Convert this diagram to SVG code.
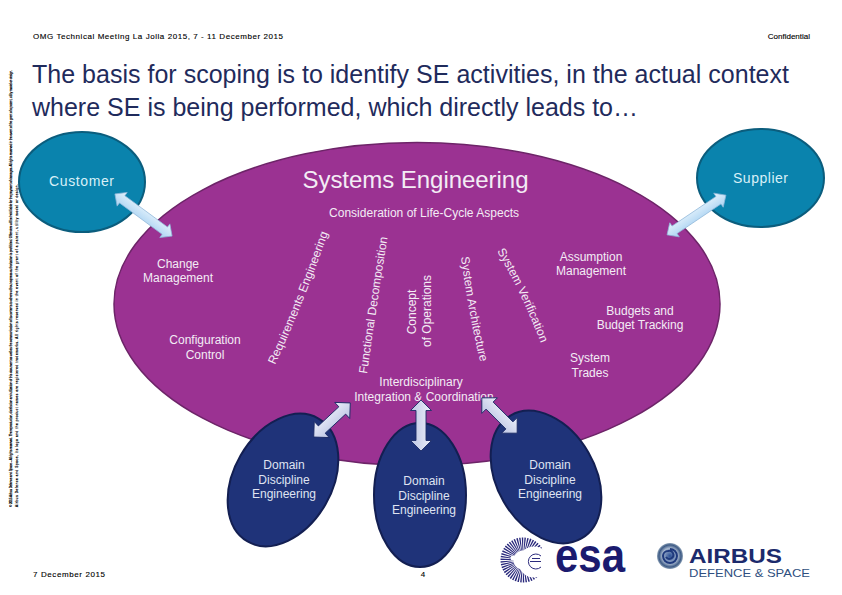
<svg xmlns="http://www.w3.org/2000/svg" width="842" height="595" viewBox="0 0 842 595">
<style>
text{font-family:"Liberation Sans",Arial,sans-serif}
.hd{font-size:8px;fill:#000;stroke:#000;stroke-width:.12}
.ttl{font-size:25px;fill:#1f2b5c}
.lb{font-size:12px;fill:#f3ecf5;text-anchor:middle}
.tp{font-size:12px;fill:#f3ecf5}
.cs{font-size:14px;fill:#d8f0f8;text-anchor:middle}
.dm{font-size:12px;fill:#dfe4f2;text-anchor:middle}
.lg{font-size:3.1px;fill:#000;stroke:#000;stroke-width:.2}
.gl{fill:none;stroke:#2b2a7c;stroke-width:1}
.a1{fill:url(#ga);stroke:#8fb6d8;stroke-width:.7}
.a2{fill:url(#gb);stroke:#1b2a66;stroke-width:.9}
.teal{fill:#0a83ad;stroke:#0b5d7d;stroke-width:2}
.dom{fill:#1f3379;stroke:#131f52;stroke-width:2}
</style>
<defs>
<linearGradient id="ga" x1="0" y1="0" x2="0" y2="1"><stop offset="0" stop-color="#e6f3fc"/><stop offset="1" stop-color="#a9d2f2"/></linearGradient>
<linearGradient id="gb" x1="0" y1="0" x2="0" y2="1"><stop offset="0" stop-color="#eceffa"/><stop offset="1" stop-color="#bcc5e3"/></linearGradient>
<radialGradient id="gl"><stop offset="0" stop-color="#2a4f95"/><stop offset=".6" stop-color="#a9b9d0"/><stop offset=".85" stop-color="#3d5a85"/><stop offset="1" stop-color="#8ea2b8"/></radialGradient>
<path id="p1" d="M275 365Q303 305 328 233"/>
<path id="p2" d="M367 374Q376 310 388 234"/>
<path id="p3" d="M461 257Q468 312 481 365"/>
<path id="p4" d="M497 251Q521 292 540 341"/>
</defs>
<rect width="842" height="595" fill="#fff"/>
<g id="legal">
<text class="lg" transform="translate(12 507) rotate(-90)" textLength="437">© 2015 Airbus Defence and Space – All rights reserved. The reproduction, distribution and utilization of this document as well as the communication of its contents to others without express authorization is prohibited. Offenders will be held liable for the payment of damages. All rights reserved in the event of the grant of a patent, utility model or design.</text>
<text class="lg" transform="translate(18 507) rotate(-90)" textLength="323">Airbus Defence and Space, its logo and the product names are registered trademarks. All rights reserved in the event of the grant of a patent, utility model or design.</text>
</g>
<g id="header">
<text class="hd" x="33" y="39" textLength="250">OMG Technical Meeting La Jolla 2015, 7 - 11 December 2015</text>
<text class="hd" x="810" y="39" text-anchor="end">Confidential</text>
<text class="ttl" x="32" y="83" textLength="757">The basis for scoping is to identify SE activities, in the actual context</text>
<text class="ttl" x="32" y="116" textLength="606">where SE is being performed, which directly leads to…</text>
</g>
<g id="customer"><ellipse class="teal" cx="82" cy="182" rx="63" ry="50"/><text class="cs" x="81.500" y="186" textLength="65">Customer</text></g>
<g id="supplier"><ellipse class="teal" cx="760.500" cy="178" rx="63.500" ry="49"/><text class="cs" x="760.500" y="183" textLength="55">Supplier</text></g>
<g id="systems-engineering">
<ellipse cx="417" cy="304" rx="303" ry="161.500" fill="#9b3292" stroke="#6d2468" stroke-width="1.500"/>
<text x="415.500" y="188" text-anchor="middle" font-size="24" fill="#f3ecf5" textLength="226">Systems Engineering</text>
<text class="lb" x="424" y="217" textLength="190">Consideration of Life-Cycle Aspects</text>
<text class="lb" x="178" y="268">Change</text><text class="lb" x="178" y="282">Management</text>
<text class="lb" x="205" y="344">Configuration</text><text class="lb" x="205" y="359">Control</text>
<text class="lb" x="591" y="261">Assumption</text><text class="lb" x="591" y="275">Management</text>
<text class="lb" x="640" y="315">Budgets and</text><text class="lb" x="640" y="329">Budget Tracking</text>
<text class="lb" x="590" y="362">System</text><text class="lb" x="590" y="377">Trades</text>
<text class="lb" x="421" y="386">Interdisciplinary</text><text class="lb" x="424" y="401">Integration &amp; Coordination</text>
<text class="tp"><textPath href="#p1">Requirements Engineering</textPath></text>
<text class="tp"><textPath href="#p2">Functional Decomposition</textPath></text>
<text class="lb" transform="translate(416 312) rotate(-90)">Concept</text>
<text class="lb" transform="translate(431 311) rotate(-90)">of Operations</text>
<text class="tp"><textPath href="#p3">System Architecture</textPath></text>
<text class="tp"><textPath href="#p4">System Verification</textPath></text>
</g>
<g id="domain-1"><ellipse class="dom" cx="283" cy="480" rx="49" ry="71" transform="rotate(30 283 480)"/><text class="dm" x="284" y="469">Domain</text><text class="dm" x="284" y="484">Discipline</text><text class="dm" x="284" y="498">Engineering</text></g>
<g id="domain-2"><ellipse class="dom" cx="420" cy="495" rx="46" ry="72"/><text class="dm" x="424" y="485">Domain</text><text class="dm" x="424" y="500">Discipline</text><text class="dm" x="424" y="514">Engineering</text></g>
<g id="domain-3"><ellipse class="dom" cx="546" cy="477" rx="49" ry="71" transform="rotate(-30 546 477)"/><text class="dm" x="550" y="469">Domain</text><text class="dm" x="550" y="484">Discipline</text><text class="dm" x="550" y="498">Engineering</text></g>
<g id="connectors">
<polygon class="a1" transform="translate(143.500 215) rotate(36.400)" points="-35.500,0 -26.500,-8.500 -26.500,-4.500 26.500,-4.500 26.500,-8.500 35.500,0 26.500,8.500 26.500,4.500 -26.500,4.500 -26.500,8.500"/>
<polygon class="a1" transform="translate(696.500 215) rotate(-34)" points="-35.500,0 -26.500,-8.500 -26.500,-4.500 26.500,-4.500 26.500,-8.500 35.500,0 26.500,8.500 26.500,4.500 -26.500,4.500 -26.500,8.500"/>
<polygon class="a2" transform="translate(332 420) rotate(-43)" points="-25,0 -14,-11 -14,-5 14,-5 14,-11 25,0 14,11 14,5 -14,5 -14,11"/>
<polygon class="a2" transform="translate(421 425.500) rotate(90)" points="-25.500,0 -15,-10.500 -15,-5 15,-5 15,-10.500 25.500,0 15,10.500 15,5 -15,5 -15,10.500"/>
<polygon class="a2" transform="translate(499.500 415.500) rotate(45)" points="-25,0 -14,-11 -14,-5 14,-5 14,-11 25,0 14,11 14,5 -14,5 -14,11"/>
</g>
<g id="footer">
<text class="hd" x="33" y="577" textLength="72">7 December 2015</text>
<text class="hd" x="423" y="577" text-anchor="middle">4</text>
</g>
<g id="esa-logo">
<circle cx="523" cy="560" r="16" fill="none" stroke="#2b2a7c" stroke-width="13" stroke-dasharray="1.100 .9"/>
<circle cx="534" cy="562" r="15.500" fill="#fff"/>
<circle cx="513" cy="558" r="2.500" fill="#fff"/>
<path class="gl" d="M541 556A7.500 7.500 0 1 0 541 567M530 561.500H541M532 558.500H540"/>
<text x="555" y="572" font-size="48" font-weight="700" fill="#1b1b6f" textLength="70" lengthAdjust="spacingAndGlyphs">esa</text>
</g>
<g id="airbus-logo">
<circle cx="670" cy="556" r="13" fill="url(#gl)"/>
<path d="M670 549a7 7 0 1 1-7 7a5 5 0 0 1 5-5a4 4 0 1 1-2 6" fill="none" stroke="#1f3a7d" stroke-width="2"/>
<text x="689" y="563" font-size="21" font-weight="700" fill="#1c2a6c" textLength="93" lengthAdjust="spacingAndGlyphs">AIRBUS</text>
<text x="689" y="577" font-size="11" fill="#2f4f80" textLength="121" lengthAdjust="spacingAndGlyphs">DEFENCE &amp; SPACE</text>
</g>
</svg>
